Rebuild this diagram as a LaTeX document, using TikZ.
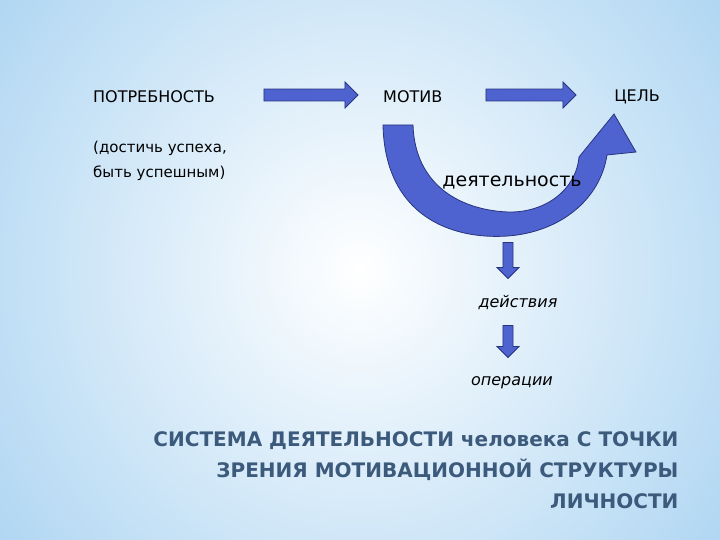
\documentclass[tikz,border=0pt]{standalone}
\usepackage{fontspec}
\setmainfont{DejaVu Sans}
\usetikzlibrary{shapes.arrows}
\definecolor{arrfill}{HTML}{4F63D0}
\definecolor{arrline}{HTML}{27347E}
\definecolor{ttl}{HTML}{3C5A7C}
\definecolor{bgout}{HTML}{94C8EE}
\begin{document}
\begin{tikzpicture}[x=1pt,y=-1pt,
  blk/.style={single arrow,draw=arrline,fill=arrfill,line width=0.8pt,minimum height=#1,minimum width=26pt,single arrow head extend=4pt,inner sep=3pt},
  dblk/.style={blk=#1,shape border rotate=270},
  lbl/.style={font=\fontsize{16}{20}\selectfont},
  it/.style={font=\fontsize{16}{19}\selectfont\itshape}]
\useasboundingbox (0,0) rectangle (720,540);
\shade[inner color=white,outer color=bgout] (-250,-350) rectangle (970,890);
\node[lbl,anchor=west,inner sep=0pt] (need) at (93,97) {ПОТРЕБНОСТЬ};
\node[lbl,anchor=west,inner sep=0pt] (motive) at (383,97) {МОТИВ};
\node[lbl,anchor=east,inner sep=0pt] (goal) at (660,97) {ЦЕЛЬ};
\node[blk=94pt] (a1) at (308,95) {};
\node[blk=90pt] (a2) at (528,95) {};
\node[lbl,align=left,anchor=north west,inner sep=0pt,font=\fontsize{15}{25}\selectfont] (ach) at (93,141) {(достичь успеха,\\быть успешным)};
% curved arrow
\filldraw[draw=arrline,fill=arrfill,line width=0.8pt]
  (383,125) .. controls (385,215) and (450,240) .. (508,236)
  .. controls (560,232) and (600,200) .. (607,155)
  -- (636,152) -- (614,114) -- (579,157)
  .. controls (576,190) and (545,213) .. (508,212)
  .. controls (460,210) and (415,185) .. (413,125) -- cycle;
\node[font=\fontsize{19}{22}\selectfont] (act) at (512,182) {деятельность};
\node[dblk=36pt,minimum width=22pt] (d1) at (508,258) {};
\node[it] (acts) at (518,303) {действия};
\node[dblk=32pt,minimum width=22pt] (d2) at (508,339) {};
\node[it] (ops) at (512,383) {операции};
\node[anchor=east,text=ttl,font=\fontsize{20}{31}\selectfont\bfseries,align=right] (t1) at (682,470)
 {СИСТЕМА ДЕЯТЕЛЬНОСТИ человека С ТОЧКИ\\ЗРЕНИЯ МОТИВАЦИОННОЙ СТРУКТУРЫ\\ЛИЧНОСТИ};
\end{tikzpicture}
\end{document}
